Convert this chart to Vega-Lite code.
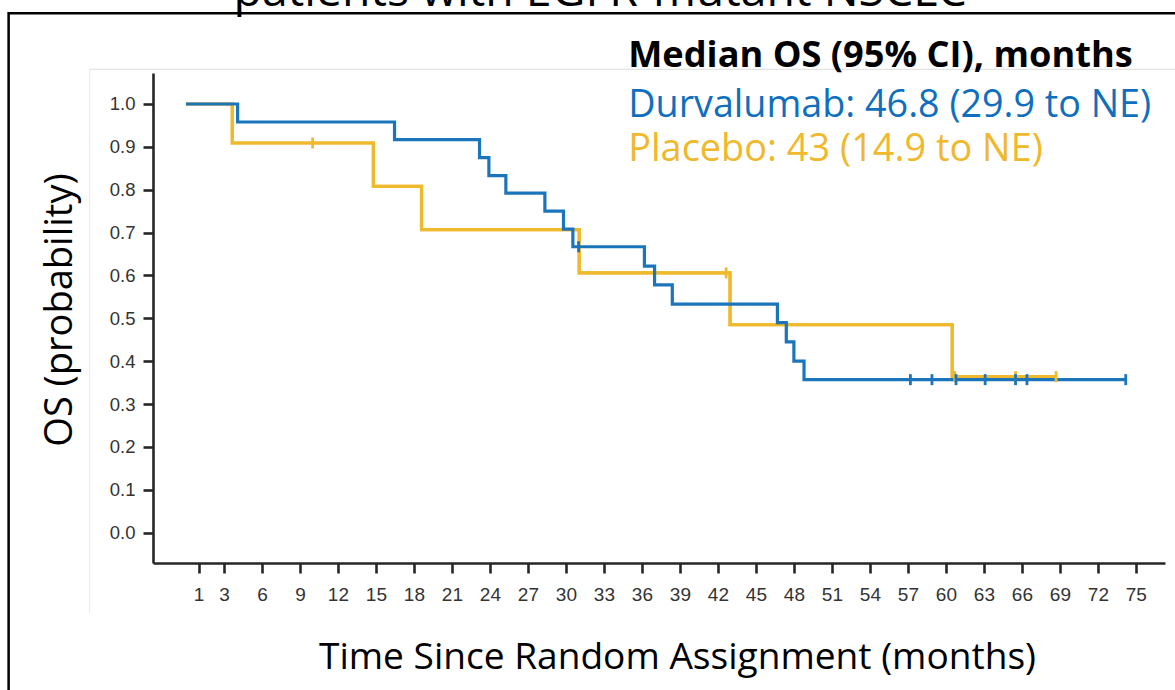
{
  "$schema": "https://vega.github.io/schema/vega-lite/v6.json",
  "width": 1012,
  "height": 490,
  "autosize": {"type": "none"},
  "padding": {"left": 153, "top": 73, "right": 10, "bottom": 127},
  "background": "white",
  "config": {"view": {"stroke": null}},
  "data": {"values": [{"note": "annotation"}]},
  "datasets": {
    "km": [
      {"arm": "Placebo", "month": 0, "surv": 1.0},
      {"arm": "Placebo", "month": 3.66, "surv": 0.909},
      {"arm": "Placebo", "month": 14.8, "surv": 0.808},
      {"arm": "Placebo", "month": 18.6, "surv": 0.707},
      {"arm": "Placebo", "month": 31.05, "surv": 0.606},
      {"arm": "Placebo", "month": 42.96, "surv": 0.485},
      {"arm": "Placebo", "month": 60.5, "surv": 0.364},
      {"arm": "Placebo", "month": 68.7, "surv": 0.364},
      {"arm": "Durvalumab", "month": 0, "surv": 1.0},
      {"arm": "Durvalumab", "month": 4.08, "surv": 0.958},
      {"arm": "Durvalumab", "month": 16.47, "surv": 0.917},
      {"arm": "Durvalumab", "month": 23.18, "surv": 0.875},
      {"arm": "Durvalumab", "month": 23.92, "surv": 0.833},
      {"arm": "Durvalumab", "month": 25.26, "surv": 0.792},
      {"arm": "Durvalumab", "month": 28.34, "surv": 0.75},
      {"arm": "Durvalumab", "month": 29.81, "surv": 0.708},
      {"arm": "Durvalumab", "month": 30.55, "surv": 0.667},
      {"arm": "Durvalumab", "month": 36.2, "surv": 0.622},
      {"arm": "Durvalumab", "month": 37.0, "surv": 0.578},
      {"arm": "Durvalumab", "month": 38.4, "surv": 0.533},
      {"arm": "Durvalumab", "month": 46.7, "surv": 0.49},
      {"arm": "Durvalumab", "month": 47.4, "surv": 0.445},
      {"arm": "Durvalumab", "month": 48.0, "surv": 0.4},
      {"arm": "Durvalumab", "month": 48.8, "surv": 0.357},
      {"arm": "Durvalumab", "month": 74.2, "surv": 0.357}
    ],
    "censor": [
      {"arm": "Placebo", "month": 10.0, "surv": 0.909},
      {"arm": "Placebo", "month": 42.65, "surv": 0.606},
      {"arm": "Placebo", "month": 60.7, "surv": 0.364},
      {"arm": "Placebo", "month": 65.5, "surv": 0.364},
      {"arm": "Placebo", "month": 68.7, "surv": 0.364},
      {"arm": "Durvalumab", "month": 31.0, "surv": 0.667},
      {"arm": "Durvalumab", "month": 57.2, "surv": 0.357},
      {"arm": "Durvalumab", "month": 58.9, "surv": 0.357},
      {"arm": "Durvalumab", "month": 60.8, "surv": 0.357},
      {"arm": "Durvalumab", "month": 63.1, "surv": 0.357},
      {"arm": "Durvalumab", "month": 65.5, "surv": 0.357},
      {"arm": "Durvalumab", "month": 66.4, "surv": 0.357},
      {"arm": "Durvalumab", "month": 74.2, "surv": 0.357}
    ]
  },
  "layer": [
    {
      "data": {"name": "km"},
      "transform": [{"filter": "datum.arm === 'Placebo'"}],
      "mark": {"type": "line", "interpolate": "step-after", "strokeWidth": 3.2, "color": "#f0b92d"},
      "encoding": {
        "x": {
          "field": "month", "type": "quantitative",
          "scale": {"domain": [-2.6, 77.3], "nice": false, "zero": false},
          "axis": {
            "values": [1, 3, 6, 9, 12, 15, 18, 21, 24, 27, 30, 33, 36, 39, 42, 45, 48, 51, 54, 57, 60, 63, 66, 69, 72, 75],
            "grid": false, "labelOverlap": false, "labelFlush": false,
            "labelFont": "Liberation Sans", "labelFontSize": 19, "labelColor": "#333333",
            "labelPadding": 12,
            "tickSize": 10, "tickWidth": 2.6, "tickColor": "#262626",
            "domainColor": "#262626", "domainWidth": 2.6,
            "title": "Time Since Random Assignment (months)",
            "titleFont": "Open Sans", "titleFontSize": 37.1, "titleFontWeight": "normal", "titleColor": "#000000",
            "titleX": 524, "titleY": 105, "titleAlign": "center", "titleBaseline": "alphabetic"
          }
        },
        "y": {
          "field": "surv", "type": "quantitative",
          "scale": {"domain": [-0.0707, 1.0723], "nice": false, "zero": false},
          "axis": {
            "values": [0, 0.1, 0.2, 0.3, 0.4, 0.5, 0.6, 0.7, 0.8, 0.9, 1.0],
            "format": ".1f",
            "grid": false, "labelOverlap": false, "labelFlush": false,
            "labelFont": "Liberation Sans", "labelFontSize": 18.5, "labelColor": "#333333",
            "labelPadding": 8,
            "tickSize": 10, "tickWidth": 2.6, "tickColor": "#262626",
            "domainColor": "#262626", "domainWidth": 2.6,
            "title": "OS (probability)",
            "titleFont": "Open Sans", "titleFontSize": 38, "titleFontWeight": "normal", "titleColor": "#000000",
            "titleAngle": 270, "titleX": -82, "titleY": 236.5, "titleAlign": "center", "titleBaseline": "alphabetic"
          }
        }
      }
    },
    {
      "mark": {"type": "rect", "fill": null, "fillOpacity": 0, "stroke": "#000000", "strokeWidth": 2.5, "clip": false},
      "encoding": {
        "x": {"datum": -14.0, "type": "quantitative"},
        "x2": {"datum": 100},
        "y": {"datum": 1.2116, "type": "quantitative"},
        "y2": {"datum": -1.5}
      }
    },
    {
      "mark": {"type": "rule", "stroke": "#dcdcdc", "strokeWidth": 1},
      "encoding": {
        "x": {"datum": -7.6, "type": "quantitative"},
        "x2": {"datum": 100},
        "y": {"datum": 1.081, "type": "quantitative"}
      }
    },
    {
      "mark": {"type": "rule", "stroke": "#e8e8e8", "strokeWidth": 1},
      "encoding": {
        "x": {"datum": -7.6, "type": "quantitative"},
        "y": {"datum": 1.081, "type": "quantitative"},
        "y2": {"datum": -0.187}
      }
    },
    {
      "data": {"name": "km"},
      "transform": [{"filter": "datum.arm === 'Placebo'"}],
      "mark": {"type": "line", "interpolate": "step-after", "strokeWidth": 3.2, "color": "#f0b92d"},
      "encoding": {
        "x": {"field": "month", "type": "quantitative"},
        "y": {"field": "surv", "type": "quantitative"}
      }
    },
    {
      "data": {"name": "km"},
      "transform": [{"filter": "datum.arm === 'Durvalumab'"}],
      "mark": {"type": "line", "interpolate": "step-after", "strokeWidth": 3.2, "color": "#1b75bb"},
      "encoding": {
        "x": {"field": "month", "type": "quantitative"},
        "y": {"field": "surv", "type": "quantitative"}
      }
    },
    {
      "data": {"name": "censor"},
      "transform": [{"filter": "datum.arm === 'Placebo'"}],
      "mark": {"type": "tick", "orient": "vertical", "size": 11, "thickness": 2.8, "color": "#f0b92d", "opacity": 1},
      "encoding": {
        "x": {"field": "month", "type": "quantitative"},
        "y": {"field": "surv", "type": "quantitative"}
      }
    },
    {
      "data": {"name": "censor"},
      "transform": [{"filter": "datum.arm === 'Durvalumab'"}],
      "mark": {"type": "tick", "orient": "vertical", "size": 11, "thickness": 2.8, "color": "#1b75bb", "opacity": 1},
      "encoding": {
        "x": {"field": "month", "type": "quantitative"},
        "y": {"field": "surv", "type": "quantitative"}
      }
    },
    {
      "mark": {"type": "text", "align": "center", "baseline": "alphabetic", "font": "Open Sans", "fontSize": 46.4, "color": "#000000"},
      "encoding": {
        "x": {"datum": 32.7, "type": "quantitative"},
        "y": {"datum": 1.2286, "type": "quantitative"},
        "text": {"value": "patients with EGFR-mutant NSCLC"}
      }
    },
    {
      "mark": {"type": "text", "align": "left", "baseline": "alphabetic", "font": "Open Sans", "fontSize": 36.2, "fontWeight": "bold", "color": "#000000"},
      "encoding": {
        "x": {"datum": 34.92, "type": "quantitative"},
        "y": {"datum": 1.087, "type": "quantitative"},
        "text": {"value": "Median OS (95% CI), months"}
      }
    },
    {
      "mark": {"type": "text", "align": "left", "baseline": "alphabetic", "font": "Open Sans", "fontSize": 37.7, "color": "#0f6fbe"},
      "encoding": {
        "x": {"datum": 34.92, "type": "quantitative"},
        "y": {"datum": 0.969, "type": "quantitative"},
        "text": {"value": "Durvalumab: 46.8 (29.9 to NE)"}
      }
    },
    {
      "mark": {"type": "text", "align": "left", "baseline": "alphabetic", "font": "Open Sans", "fontSize": 37.9, "color": "#efb82d"},
      "encoding": {
        "x": {"datum": 34.92, "type": "quantitative"},
        "y": {"datum": 0.868, "type": "quantitative"},
        "text": {"value": "Placebo: 43 (14.9 to NE)"}
      }
    }
  ]
}
